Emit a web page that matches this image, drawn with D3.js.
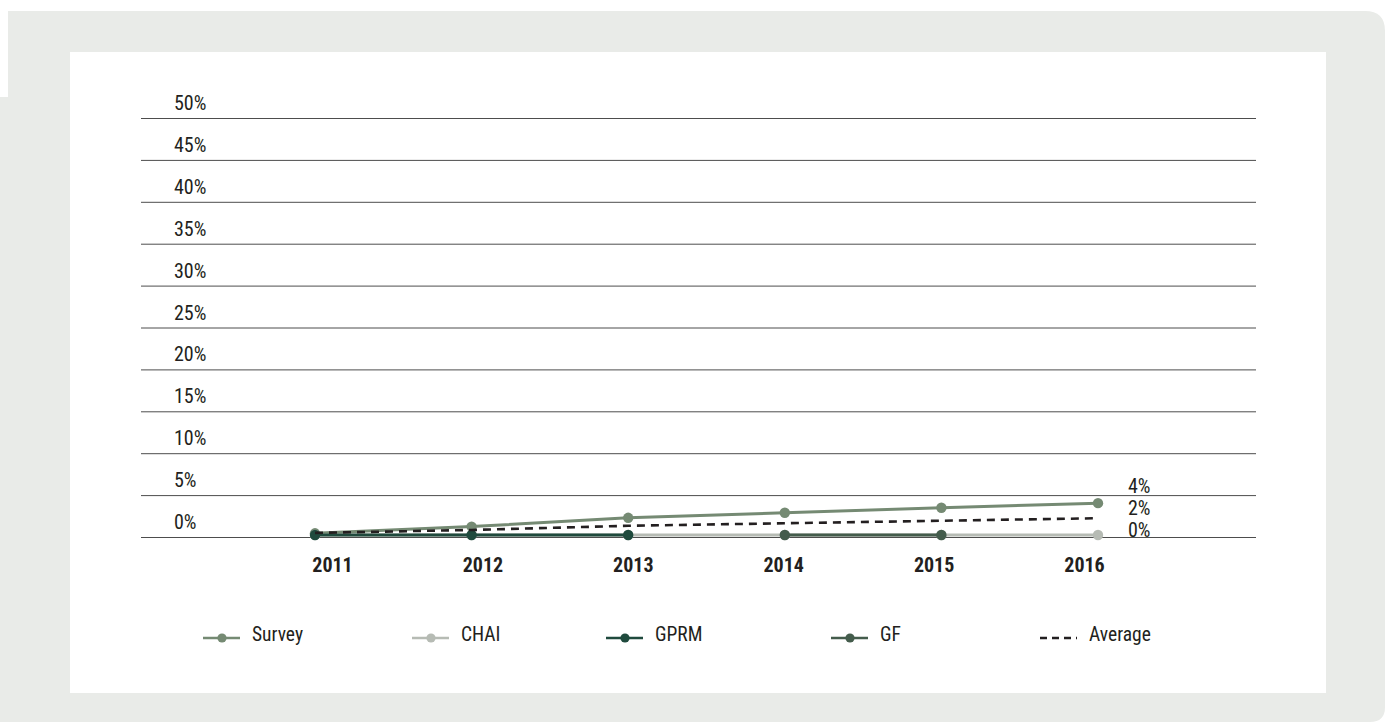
<!DOCTYPE html>
<html>
<head>
<meta charset="utf-8">
<script src="https://cdn.jsdelivr.net/npm/d3@7"></script>
<style>
  html, body { margin: 0; padding: 0; background: #ffffff; }
  svg { display: block; }
  text { font-family: "Liberation Sans Narrow", "Roboto Condensed", "Open Sans", sans-serif; fill: #231f20; }
</style>
</head>
<body>
<svg id="chart" width="1390" height="722"></svg>
<script>
// Years on the horizontal axis
const years = [2011, 2012, 2013, 2014, 2015, 2016];

// Share values (%) per source
const survey  = [0.2, 1.0, 2.05, 2.65, 3.25, 3.8];
const chai    = [0, 0, 0, 0, 0, 0];
const gprm    = [0, 0, 0, null, null, null];
const gf      = [null, null, null, 0, 0, null];
const average = [0.25, 0.6, 1.1, 1.4, 1.7, 2.0];

// Value axis ticks
const yTicks = [0, 5, 10, 15, 20, 25, 30, 35, 40, 45, 50];

// Series styling, in drawing order
const seriesDefs = [
  { name: "Survey",  values: survey,  color: "#758a73", dots: true,  dash: null },
  { name: "CHAI",    values: chai,    color: "#b6bbb4", dots: true,  dash: null },
  { name: "GPRM",    values: gprm,    color: "#1f4a3d", dots: true,  dash: null },
  { name: "GF",      values: gf,      color: "#445c4c", dots: true,  dash: null },
  { name: "Average", values: average, color: "#231f20", dots: false, dash: "8,6" }
];

const svg = d3.select("#chart");

// Panel background
const bg = "#e9ebe8";
svg.append("path")
  .attr("fill", bg)
  .attr("d", "M8,11 H1365 Q1385,11 1385,31 V707 Q1385,722 1370,722 H8 Z");
svg.append("rect").attr("x", 0).attr("y", 97).attr("width", 9).attr("height", 625).attr("fill", bg);
svg.append("rect").attr("x", 70).attr("y", 52).attr("width", 1256).attr("height", 641).attr("fill", "#ffffff");

// Scales
const y = d3.scaleLinear().domain([0, 50]).range([537, 118]);
const xMark = d3.scalePoint().domain(years).range([315, 1098]);
const xLabel = d3.scalePoint().domain(years).range([332, 1084]);

// Horizontal gridlines with labels sitting above them
const grid = svg.append("g");
grid.selectAll("line").data(yTicks).join("line")
  .attr("x1", 141).attr("x2", 1256)
  .attr("y1", d => y(d) + 0.5).attr("y2", d => y(d) + 0.5)
  .attr("stroke", "#4d4d4d").attr("stroke-width", 1);
grid.selectAll("text").data(yTicks).join("text")
  .attr("x", 174).attr("y", d => y(d) - 8)
  .attr("font-size", 20)
  .text(d => d + "%");

// Year labels
const xAxis = d3.axisBottom(xLabel).tickSize(0).tickPadding(0);
const xg = svg.append("g").attr("transform", "translate(0,572)").call(xAxis);
xg.select(".domain").remove();
xg.selectAll("text")
  .attr("font-size", 20).attr("font-weight", "bold")
  .attr("font-family", null).attr("fill", "#231f20")
  .attr("y", 0).attr("dy", null);

// Series
const plot = svg.append("g").attr("transform", "translate(0,-2)");
const line = d3.line()
  .defined(d => d.v !== null)
  .x(d => xMark(d.year))
  .y(d => y(d.v));

seriesDefs.forEach(s => {
  const pts = years.map((yr, i) => ({ year: yr, v: s.values[i] }));
  const g = plot.append("g");
  g.append("path")
    .datum(pts)
    .attr("d", line)
    .attr("fill", "none")
    .attr("stroke", s.color)
    .attr("stroke-width", s.dash ? 2.6 : 3)
    .attr("stroke-dasharray", s.dash);
  if (s.dots) {
    g.selectAll("circle").data(pts.filter(d => d.v !== null)).join("circle")
      .attr("cx", d => xMark(d.year))
      .attr("cy", d => y(d.v))
      .attr("r", 5.2)
      .attr("fill", s.color);
  }
});

// End-of-series value labels, stacked upward from the baseline
const fmt = v => Math.round(v) + "%";
const endVals = [survey[5], average[5], chai[5]].sort((a, b) => a - b);
svg.append("g").selectAll("text").data(endVals).join("text")
  .attr("x", 1128)
  .attr("y", (d, i) => y(0) - i * 22)
  .attr("font-size", 20)
  .text(d => fmt(d));

// Legend
const legendX = [203, 412, 606, 831, 1040];
const lg = svg.append("g").attr("transform", "translate(0,638)");
seriesDefs.forEach((s, i) => {
  const item = lg.append("g").attr("transform", `translate(${legendX[i]},0)`);
  item.append("line")
    .attr("x1", 0).attr("x2", 37).attr("y1", 0).attr("y2", 0)
    .attr("stroke", s.color).attr("stroke-width", s.dash ? 2.6 : 2.4)
    .attr("stroke-dasharray", s.dash ? "7,5" : null);
  if (s.dots) {
    item.append("circle").attr("cx", 19).attr("cy", 0).attr("r", 4.6).attr("fill", s.color);
  }
  item.append("text")
    .attr("x", 49).attr("y", 3)
    .attr("font-size", 19.5)
    .text(s.name);
});
</script>
</body>
</html>
